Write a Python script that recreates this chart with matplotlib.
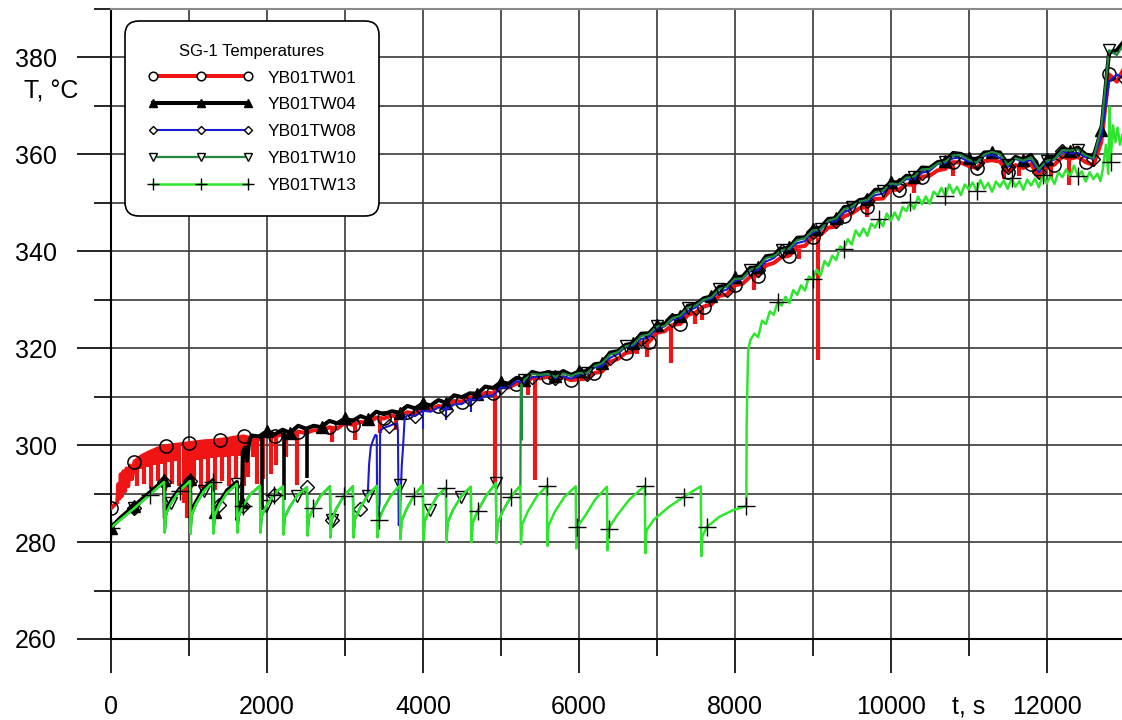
import numpy as np
import matplotlib
matplotlib.use("Agg")
import matplotlib.pyplot as plt
from matplotlib.lines import Line2D
from matplotlib.ticker import MultipleLocator

plt.rcParams['font.family'] = ['Liberation Sans', 'DejaVu Sans']

# ---------------- data ----------------
series_names = ['YB01TW01', 'YB01TW04', 'YB01TW08', 'YB01TW10', 'YB01TW13']
legend_title = 'SG-1 Temperatures'

# lower saw-tooth path (t [s], T [degC]) shared early on by TW04/TW08/TW10/TW13
saw = [
    (0, 283.0), (120, 284.6), (300, 287.0), (500, 289.8), (680, 292.4),
    (690, 282.0), (705, 285.8), (770, 288.0), (880, 290.6), (1013, 292.6),
    (1020, 281.8), (1035, 285.6), (1090, 287.8), (1190, 290.5), (1308, 292.4),
    (1315, 281.8), (1330, 285.5), (1390, 287.7), (1490, 290.2), (1615, 292.0),
    (1622, 282.0), (1637, 285.4), (1695, 287.5), (1790, 289.9), (1910, 291.6),
    (1917, 282.0), (1932, 285.3), (1990, 287.4), (2085, 289.8), (2205, 291.5),
    (2212, 281.6), (2227, 285.0), (2290, 287.2), (2390, 289.6), (2513, 291.3),
    (2520, 281.4), (2535, 284.8), (2595, 287.0), (2690, 289.6), (2808, 291.5),
    (2815, 281.0), (2830, 284.6), (2890, 286.9), (2985, 289.5), (3102, 291.5),
    (3110, 281.0), (3125, 284.6), (3190, 286.9), (3290, 289.6), (3410, 291.6),
    (3417, 281.0), (3432, 284.5), (3495, 286.9), (3590, 289.6), (3705, 291.7),
    (3712, 280.6), (3727, 284.3), (3790, 286.8), (3885, 289.6), (4000, 291.8),
    (4007, 280.4), (4022, 284.2), (4085, 286.7), (4180, 289.4), (4295, 291.2),
    (4302, 280.0), (4317, 284.0), (4385, 286.6), (4490, 289.4), (4615, 291.4),
    (4622, 280.0), (4637, 283.9), (4705, 286.5), (4810, 289.5), (4936, 292.2),
    (4943, 279.8), (4958, 283.8), (5025, 286.4), (5130, 289.4), (5250, 291.6),
    (5257, 279.6), (5272, 283.6), (5345, 286.3), (5460, 289.4), (5590, 291.6),
    (5597, 279.2), (5612, 283.4), (5690, 286.2), (5815, 289.3), (5960, 291.5),
    (5967, 278.7), (5982, 283.2), (6080, 285.4), (6210, 288.8), (6360, 291.4),
    (6367, 278.3), (6382, 282.8), (6490, 285.5), (6650, 288.8), (6846, 291.6),
    (6853, 277.7), (6868, 282.4), (6960, 284.6), (7150, 287.2), (7350, 289.4), (7564, 291.5),
    (7571, 277.1), (7586, 281.2), (7640, 283.1), (7800, 285.2), (7980, 286.6), (8140, 287.4),
]

# upper band, sampled every 100 s from 1800 s
band_t = list(range(1800, 13001, 100))

tw01_band = [
    301.4, 301.2, 302.2, 301.8, 302.2, 301.6, 302.8, 302.5, 303.1, 302.9,
    303.7, 303.4, 304.6, 304.2, 304.8, 304.5, 305.7, 305.5, 306.1, 305.9,
    306.8, 306.5, 307.7, 307.4, 308.1, 307.8, 309.1, 309.0, 309.8, 309.8,
    310.8, 310.7, 312.1, 311.9, 312.7, 312.6, 313.9, 313.8, 314.1, 313.5,
    314.0, 313.4, 313.6, 313.7, 314.9, 315.2, 317.2, 317.8, 319.0, 319.3,
    321.1, 321.3, 323.2, 323.5, 324.8, 325.0, 326.9, 327.4, 328.6, 329.0,
    330.8, 331.1, 333.0, 333.3, 334.8, 335.0, 337.1, 337.6, 338.8, 339.1,
    340.9, 341.1, 343.0, 343.4, 344.9, 345.1, 347.2, 347.8, 348.9, 349.1,
    350.8, 350.9, 352.7, 352.7, 353.8, 353.7, 355.4, 355.6, 356.7, 357.0,
    358.4, 358.3, 357.6, 357.2, 358.6, 358.8, 358.5, 356.4, 357.8, 357.2,
    358.0, 355.3, 357.4, 357.9, 359.5, 359.1, 359.5, 358.4, 357.8, 362.5,
    376.5, 375.0, 378.0,
]
tw04_band = [
    302.0, 301.8, 302.9, 302.2, 303.2, 302.5, 304.0, 303.4, 304.0, 303.7,
    305.0, 304.5, 305.5, 305.0, 306.0, 305.4, 306.9, 306.4, 307.0, 306.7,
    308.1, 307.6, 308.6, 308.2, 309.3, 308.7, 310.3, 309.9, 310.7, 310.6,
    312.1, 311.8, 313.0, 312.7, 313.9, 313.5, 315.1, 314.7, 315.0, 314.3,
    315.3, 314.5, 315.2, 315.2, 316.7, 316.9, 319.1, 319.4, 320.7, 321.0,
    323.0, 323.1, 324.8, 325.0, 326.6, 326.7, 328.8, 329.0, 330.3, 330.7,
    332.7, 332.9, 334.6, 334.8, 336.6, 336.7, 339.0, 339.2, 340.5, 340.8,
    342.8, 342.9, 344.6, 344.9, 346.7, 346.8, 349.1, 349.4, 350.6, 350.8,
    352.7, 352.7, 354.3, 354.2, 355.6, 355.4, 357.3, 357.2, 358.4, 358.7,
    360.3, 360.1, 359.2, 358.7, 360.4, 360.5, 360.4, 358.0, 359.5, 358.9,
    359.9, 357.1, 359.0, 359.4, 361.3, 360.8, 361.4, 360.0, 359.5, 365.0,
    381.0, 381.5, 383.5,
]
tw08_band = [  # from 3800 s
    306.2, 306.0, 307.1, 306.9, 307.8, 307.3, 308.4, 308.5, 309.5, 309.3,
    310.2, 310.2, 311.9, 311.9, 313.2, 312.9, 314.0, 314.1, 314.6, 313.8,
    314.2, 313.7, 314.5, 314.7, 316.0, 316.3, 318.0, 318.8, 320.3, 320.5,
    321.9, 322.3, 324.1, 324.5, 325.9, 326.1, 327.7, 328.4, 329.9, 330.2,
    331.6, 332.1, 333.9, 334.3, 335.9, 336.1, 337.9, 338.6, 340.1, 340.3,
    341.7, 342.1, 343.9, 344.4, 346.0, 346.2, 348.0, 348.8, 350.2, 350.3,
    351.6, 351.9, 353.6, 353.7, 354.9, 354.8, 356.2, 356.6, 358.0, 358.2,
    359.2, 359.3, 358.5, 358.2, 359.7, 359.9, 359.3, 357.4, 359.1, 358.4,
    358.8, 356.3, 358.3, 358.9, 360.6, 360.2, 360.3, 359.4, 359.1, 363.5,
    375.0, 376.5, 375.5,
]
tw10_band = [  # from 5300 s
    313.5, 314.7, 314.5, 314.7, 314.1,
    314.8, 314.3, 314.9, 314.8, 316.3, 316.9, 318.7, 319.2, 320.4, 320.8,
    322.5, 322.9, 324.5, 324.6, 326.2, 326.7, 328.4, 328.8, 330.0, 330.5,
    332.2, 332.7, 334.3, 334.4, 336.2, 336.7, 338.6, 339.0, 340.2, 340.6,
    342.3, 342.7, 344.3, 344.5, 346.3, 346.8, 348.7, 349.2, 350.3, 350.6,
    352.2, 352.5, 354.0, 353.8, 355.2, 355.4, 356.9, 357.0, 358.1, 358.5,
    359.8, 359.9, 358.9, 358.3, 360.0, 360.5, 360.0, 357.8, 359.2, 358.7,
    359.4, 356.9, 358.7, 359.0, 360.9, 360.8, 361.0, 359.8, 359.2, 365.5,
    381.5, 380.5, 383.0,
]

tw01_early = [
    (0, 287.0), (40, 287.6), (80, 288.2), (95, 292.0), (110, 289.0), (125, 294.0),
    (140, 289.5), (160, 294.6), (180, 290.5), (200, 295.2), (220, 291.5), (245, 295.8),
    (270, 293.0), (300, 296.6), (400, 297.8), (500, 298.6), (600, 299.3), (700, 299.8),
    (800, 300.0), (900, 300.2), (1000, 300.4), (1100, 300.6), (1200, 300.8), (1300, 300.9),
    (1400, 301.1), (1500, 301.3), (1600, 301.6), (1700, 301.8),
]
tw04_early = [
    (0, 283.0), (120, 285.0), (300, 287.5), (500, 290.3), (680, 292.8),
    (690, 285.0), (705, 286.5), (770, 288.5), (880, 291.0), (1013, 293.0),
    (1020, 285.0), (1035, 286.3), (1090, 288.3), (1190, 291.0), (1308, 292.8),
    (1315, 285.0), (1330, 286.2), (1390, 288.2), (1490, 290.7), (1615, 292.4),
    (1622, 284.5), (1640, 286.5), (1680, 288.3), (1690, 298.6), (1720, 299.5),
    (1745, 296.8), (1770, 300.5),
]
tw08_jump = [
    (3295, 290.5), (3310, 296.0), (3330, 299.5), (3360, 301.0), (3390, 302.1),
    (3408, 302.0), (3414, 282.5), (3430, 285.5), (3445, 288.0), (3452, 303.0),
    (3500, 303.6), (3560, 303.9), (3620, 304.3), (3670, 304.5), (3680, 303.0),
    (3690, 283.5), (3705, 286.0), (3730, 296.0), (3745, 299.5), (3765, 305.2),
]
tw10_jump = [(5256, 312.0)]
tw13_late = [
    (8148, 288.0), (8152, 303.7), (8160, 311.3), (8172, 319.6), (8200, 321.7),
    (8250, 323.0), (8300, 322.3), (8350, 325.7), (8400, 325.0), (8450, 327.6),
    (8500, 326.9), (8550, 329.5), (8600, 328.8), (8650, 330.6), (8700, 329.3),
    (8750, 332.0), (8800, 331.0), (8850, 333.0), (8900, 331.9), (8950, 334.8),
    (9000, 334.2), (9050, 336.2), (9100, 335.0), (9150, 338.0), (9200, 337.0),
    (9250, 339.1), (9300, 338.2), (9350, 341.0), (9400, 340.5), (9450, 342.5),
    (9500, 341.4), (9550, 344.3), (9600, 343.1), (9650, 344.7), (9700, 343.2),
    (9750, 345.7), (9800, 344.9), (9850, 346.6), (9900, 345.2), (9950, 347.8),
    (10000, 346.3), (10050, 348.0), (10100, 346.5), (10150, 349.1), (10200, 348.3),
    (10250, 350.1), (10300, 348.7), (10350, 351.3), (10400, 349.7), (10450, 351.3),
    (10500, 349.8), (10550, 352.3), (10600, 351.5), (10650, 353.1), (10700, 351.4),
    (10750, 353.8), (10800, 352.0), (10850, 353.3), (10900, 351.6), (10950, 353.8),
    (11000, 352.8), (11050, 354.2), (11100, 352.5), (11150, 354.7), (11200, 352.9),
    (11250, 354.1), (11300, 352.3), (11350, 354.4), (11400, 353.3), (11450, 354.6),
    (11500, 352.9), (11550, 355.1), (11600, 353.3), (11650, 354.5), (11700, 352.7),
    (11750, 354.8), (11800, 353.6), (11850, 355.0), (11900, 353.2), (11950, 355.7),
    (12000, 354.0), (12050, 355.5), (12100, 353.9), (12150, 356.3), (12200, 355.3),
    (12250, 356.9), (12300, 355.4), (12350, 357.7), (12400, 355.5), (12450, 356.5),
    (12500, 354.4), (12550, 356.3), (12600, 354.9), (12650, 356.0), (12690, 354.5),
    (12720, 357.0), (12760, 362.0), (12790, 356.0), (12807, 369.8), (12820, 358.5),
    (12850, 366.0), (12880, 362.5), (12910, 365.5), (12940, 362.0), (12970, 364.0),
]

# short downward excursions: (t, upper T, lower T)
tw01_spikes = [
    (330, 297.0, 291.5), (375, 297.6, 295.0), (420, 298.0, 292.0), (465, 298.3, 295.5),
    (510, 298.6, 291.0), (555, 299.0, 296.0), (600, 299.3, 292.5), (645, 299.5, 296.2),
    (690, 299.8, 290.5), (735, 299.9, 296.5), (780, 300.0, 292.0), (825, 300.1, 296.8),
    (870, 300.2, 291.5), (930, 300.3, 288.0), (970, 300.3, 285.0), (1010, 300.4, 287.0),
    (1060, 300.5, 292.8), (1105, 300.6, 297.0), (1150, 300.7, 291.2), (1195, 300.8, 297.2),
    (1240, 300.8, 292.0), (1285, 300.9, 297.3), (1330, 301.0, 290.8), (1375, 301.1, 297.5),
    (1420, 301.2, 292.5), (1465, 301.2, 297.5), (1510, 301.3, 291.5), (1555, 301.5, 297.8),
    (1600, 301.6, 293.0), (1650, 301.7, 297.8), (1700, 301.8, 291.5), (1760, 301.6, 293.5),
    (1820, 301.4, 297.5), (1870, 301.3, 292.0), (1950, 302.0, 293.0), (2050, 302.0, 294.0),
    (2120, 301.9, 296.0), (2250, 302.3, 297.5), (2385, 302.6, 291.7),
    (2833, 303.6, 300.6), (3130, 304.4, 301.0), (3450, 305.5, 302.5), (3650, 306.1, 303.2),
    (4923, 311.5, 291.5), (5346, 313.5, 310.3), (5436, 313.8, 292.8), (6750, 321.0, 318.8),
    (6870, 322.0, 318.2), (7180, 325.0, 317.0), (7490, 327.5, 325.0), (7580, 328.3, 325.8),
    (8250, 334.5, 332.0), (8820, 340.5, 338.5), (9064, 342.8, 317.5), (9700, 349.5, 347.0),
    (10300, 354.5, 352.0), (10800, 357.5, 355.5), (11450, 357.5, 355.0), (11650, 357.5, 355.5),
    (12050, 357.5, 355.0), (12290, 359.5, 353.7),
]
tw04_spikes = [(1935, 302.5, 286.6), (2215, 303.0, 288.7), (2520, 303.4, 293.2)]
tw08_spikes = [(4000, 307.1, 303.4), (4295, 308.1, 305.2), (4615, 309.5, 306.9)]
tw10_spikes = [(5262, 312.8, 301.0)]

# ---------------- assemble series ----------------
def pts(lst):
    a = np.array(lst, dtype=float)
    return a[:, 0], a[:, 1]

def band(vals):
    return list(zip(band_t[-len(vals):], vals))

tw01 = pts(tw01_early + band(tw01_band))
tw04 = pts(tw04_early + band(tw04_band))
tw08 = pts([p for p in saw if p[0] <= 3290] + tw08_jump + band(tw08_band))
tw10 = pts([p for p in saw if p[0] <= 5250] + tw10_jump + band(tw10_band))
tw13 = pts(saw + tw13_late)

# ---------------- figure ----------------
W, H = 1122, 720
fig = plt.figure(figsize=(W / 100, H / 100), dpi=100)
ax = fig.add_axes([111 / W, 1 - 639 / H, 1 - 111 / W, (639 - 9) / H])
ax.set_xlim(0, 12966)
ax.set_ylim(260, 390)

styles = [
    dict(color='#f01414', lw=2.9, slw=3.0, marker='o', ms=9.5, mfc='none', mec='black', mew=1.1, step=347, start=0),
    dict(color='black', lw=2.9, slw=2.6, marker='^', ms=8.5, mfc='black', mec='black', mew=1.0, step=333, start=0),
    dict(color='#1a1ad0', lw=1.5, slw=1.5, marker='D', ms=7, mfc='none', mec='black', mew=1.0, step=362, start=290),
    dict(color='#1f8a3c', lw=1.6, slw=2.2, marker='v', ms=9, mfc='none', mec='black', mew=1.0, step=415, start=340),
    dict(color='#2ee62e', lw=1.8, slw=1.8, marker='+', ms=13, mfc='none', mec='black', mew=1.0, step=427, start=10),
]
data = [tw01, tw04, tw08, tw10, tw13]
spikes = [tw01_spikes, tw04_spikes, tw08_spikes, tw10_spikes, []]

handles = []
for i, ((t, T), st, sp, name) in enumerate(zip(data, styles, spikes, series_names)):
    z = 3 + i
    if sp:
        s = np.array(sp, dtype=float)
        ax.vlines(s[:, 0], s[:, 2], s[:, 1], colors=st['color'], lw=st['slw'], zorder=z)
    marks = np.arange(st['start'], 12966, st['step'])
    idx = sorted(set(int(np.argmin(np.abs(t - m))) for m in marks))
    ax.plot(t, T, color=st['color'], lw=st['lw'], zorder=z,
            marker=st['marker'], ms=st['ms'], mfc=st['mfc'], mec=st['mec'],
            mew=st['mew'], markevery=idx)
    handles.append(Line2D([], [], color=st['color'], lw=st['lw'], marker=st['marker'],
                          ms=st['ms'], mfc='white' if st['mfc'] == 'none' else st['mfc'],
                          mec=st['mec'], mew=st['mew'], label=name))

# axes, ticks, grid
ax.xaxis.set_major_locator(MultipleLocator(2000))
ax.xaxis.set_minor_locator(MultipleLocator(1000))
ax.yaxis.set_major_locator(MultipleLocator(20))
ax.yaxis.set_minor_locator(MultipleLocator(10))
ax.grid(which='both', color='#3a3a3a', lw=1.2)
ax.set_axisbelow(True)
ax.tick_params(which='major', length=24.5, width=1.2, direction='out', labelsize=18)
ax.tick_params(which='minor', length=12.5, width=1.2, direction='out')
ax.tick_params(axis='x', which='major', pad=15.5)
ax.tick_params(axis='y', which='major', pad=14.5)
for side in ['left', 'bottom']:
    ax.spines[side].set_linewidth(1.5)
    ax.spines[side].set_color('black')
ax.spines['right'].set_visible(False)
ax.spines['top'].set_color('#8a8a8a')
ax.spines['top'].set_linewidth(1.5)

ax.annotate('t, s', xy=(11000, 0), xycoords=ax.get_xaxis_transform(),
            xytext=(0, -(24.5 + 15.5)), textcoords='offset points',
            ha='center', va='top', fontsize=18, annotation_clip=False)
fig.text(51 / W, 1 - 92 / H, 'T, °C', ha='center', va='center', fontsize=18)

leg = ax.legend(handles=handles, title=legend_title, loc='upper left',
                bbox_to_anchor=(125 / W, 1 - 21 / H), bbox_transform=fig.transFigure,
                borderaxespad=0, fontsize=12.5, title_fontsize=12, numpoints=3,
                markerscale=0.65, handlelength=6.1, handletextpad=0.8,
                borderpad=1.3, labelspacing=0.68, framealpha=1, fancybox=True)
frame = leg.get_frame()
frame.set_edgecolor('black')
frame.set_linewidth(1.2)
frame.set_boxstyle('round', pad=0, rounding_size=0.8)
leg.set_zorder(20)

fig.savefig('out.png', dpi=100)
